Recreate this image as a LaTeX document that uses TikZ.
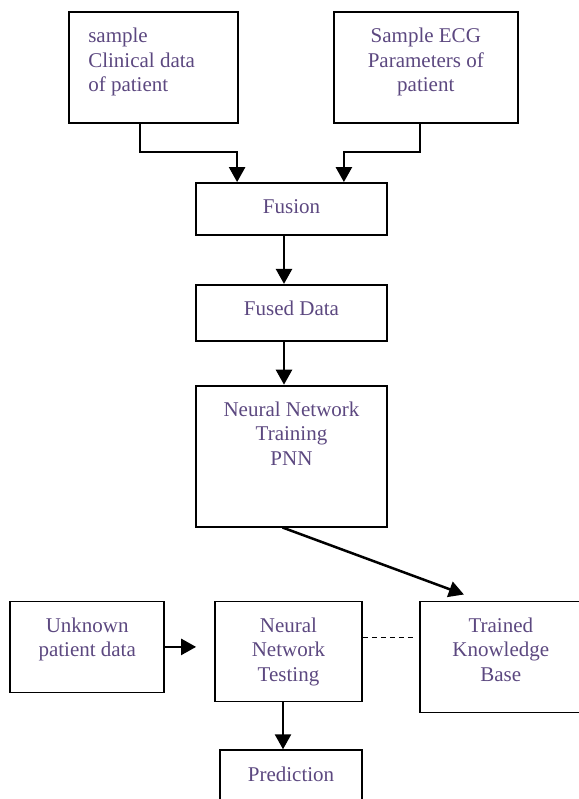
\documentclass[tikz,border=0pt]{standalone}
\usepackage{fontspec}
\setmainfont{Liberation Serif}
\usepackage{tikz}
\usetikzlibrary{arrows.meta,positioning,calc}
\definecolor{LABELCOLOR}{RGB}{92,72,128}
\tikzstyle{BOX} = [rectangle, draw, line width=1.8pt, inner sep=0pt]
\tikzstyle{LABEL} = [text=LABELCOLOR, align=center, inner sep=0pt, font=\fontsize{21pt}{24.5pt}\selectfont]
\tikzstyle{ARROW} = [draw, line width=2.5pt, -{Triangle[width=16pt,length=15pt]}]
\tikzstyle{DASHLINE} = [draw, line width=1.8pt, dash pattern=on 5pt off 4pt]

\begin{document}
\begin{tikzpicture}
\useasboundingbox (0pt,0pt) rectangle (578pt,-799pt);
% Place node
\node [BOX, minimum width=169pt, minimum height=111pt] (CLINICAL) at (153.5pt,-67.5pt) {};
\node [BOX, minimum width=184pt, minimum height=111pt, right=94pt of CLINICAL] (ECG) {};
\node [BOX, minimum width=191pt, minimum height=52pt] (FUSION) at (291.5pt,-209pt) {};
\node [BOX, minimum width=191pt, minimum height=56pt, below=48pt of FUSION] (FUSED) {};
\node [BOX, minimum width=191pt, minimum height=141pt, below=43pt of FUSED] (TRAINING) {};
\node [BOX, minimum width=147pt, minimum height=100pt, below=73pt of TRAINING, xshift=-3pt] (TESTING) {};
\node [BOX, minimum width=154pt, minimum height=91pt, left=49pt of TESTING.north west, anchor=north east] (UNKNOWN) {};
\node [BOX, minimum width=162pt, minimum height=111pt, right=56pt of TESTING.north east, anchor=north west] (TRAINED) {};
\node [BOX, minimum width=142pt, minimum height=66pt, below=47pt of TESTING, xshift=2.5pt] (PREDICTION) {};
% Texts
\node [LABEL, align=left, below right=17pt and 20pt of CLINICAL.north west] (CLINICAL_TEXT) {sample\\ Clinical data\\ of patient};
\node [LABEL, below=17pt of ECG.north] (ECG_TEXT) {Sample ECG\\ Parameters of\\ patient};
\node [LABEL, below=17pt of FUSION.north] (FUSION_TEXT) {Fusion};
\node [LABEL, below=17pt of FUSED.north] (FUSED_TEXT) {Fused Data};
\node [LABEL, below=17pt of TRAINING.north] (TRAINING_TEXT) {Neural Network\\ Training\\ PNN};
\node [LABEL, below=17pt of UNKNOWN.north] (UNKNOWN_TEXT) {Unknown\\ patient data};
\node [LABEL, below=17pt of TESTING.north] (TESTING_TEXT) {Neural\\ Network\\ Testing};
\node [LABEL, below=17pt of TRAINED.north] (TRAINED_TEXT) {Trained\\ Knowledge\\ Base};
\node [LABEL, below=17pt of PREDICTION.north] (PREDICTION_TEXT) {Prediction};
% LINES and ARROWS
\draw [ARROW] ([xshift=-13.5pt]CLINICAL.south) -- ++(0,-28pt) -| ([xshift=42pt]FUSION.north west);
\draw [ARROW] ([xshift=-6pt]ECG.south) -- ++(0,-28pt) -| ([xshift=-44pt]FUSION.north east);
\draw [ARROW] ([xshift=-7.5pt]FUSION.south) -- ([xshift=-7.5pt]FUSED.north);
\draw [ARROW] ([xshift=-7.5pt]FUSED.south) -- ([xshift=-7.5pt]TRAINING.north);
\draw [ARROW] ([xshift=-9pt]TRAINING.south) -- ([xshift=45pt,yshift=6pt]TRAINED.north west);
\draw [ARROW, shorten >=18pt] (UNKNOWN.east) -- (UNKNOWN.east -| TESTING.west);
\draw [DASHLINE, shorten >=6pt] ([yshift=14pt]TESTING.east) -- ([yshift=14pt]TESTING.east -| TRAINED.west);
\draw [ARROW] ([xshift=-5.5pt]TESTING.south) -- ([xshift=-5.5pt]TESTING.south |- PREDICTION.north);
\end{tikzpicture}
\end{document}
